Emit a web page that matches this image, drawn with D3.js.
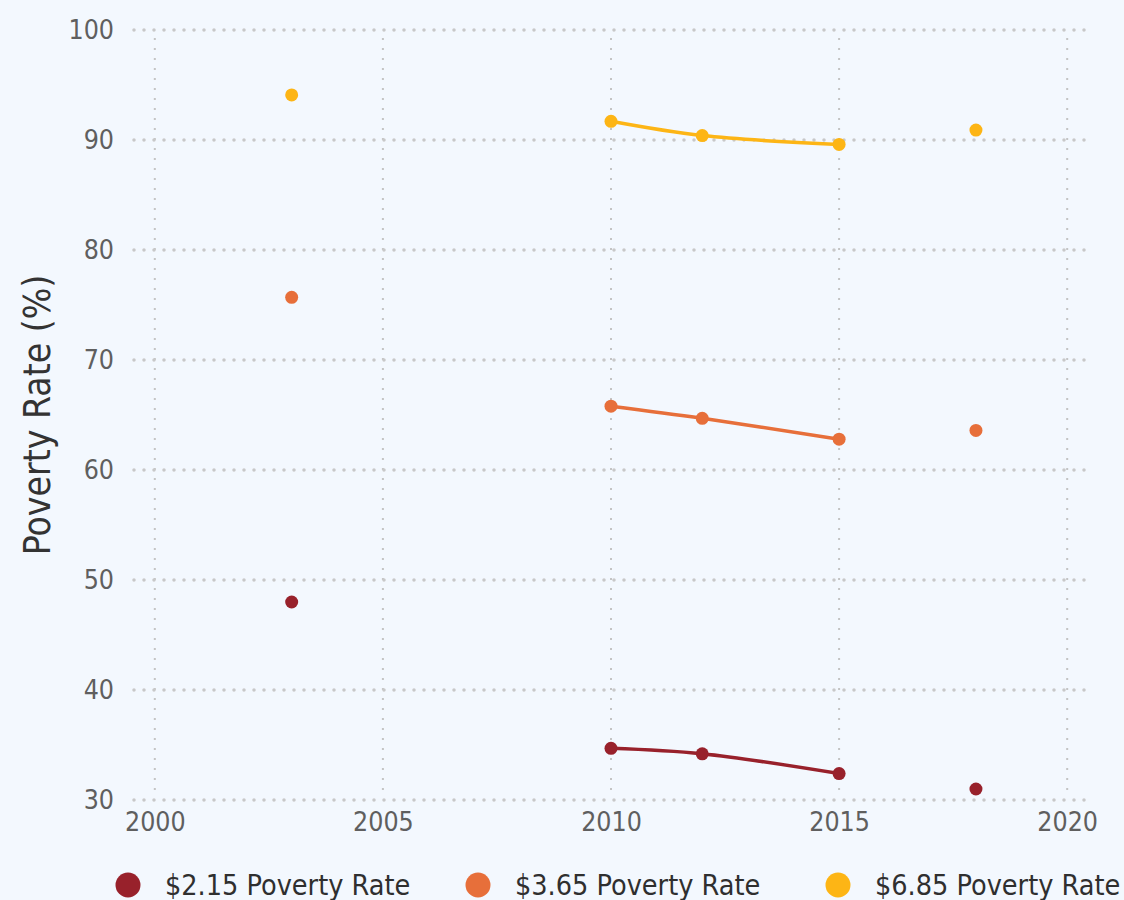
<!DOCTYPE html>
<html>
<head>
<meta charset="utf-8">
<script src="https://cdn.jsdelivr.net/npm/d3@7"></script>
<style>
  body { margin: 0; background: #f3f8fe; }
  svg { display: block; }
  text { font-family: "DejaVu Sans Condensed", "DejaVu Sans", sans-serif; }
</style>
</head>
<body>
<div id="chart"></div>
<script>
// data
const years = [2003, 2010, 2012, 2015, 2018];
// years joined by a line (the others stand alone)
const linkedYears = [2010, 2012, 2015];
const rate215 = [48.0, 34.7, 34.2, 32.4, 31.0];
const rate365 = [75.7, 65.8, 64.7, 62.8, 63.6];
const rate685 = [94.1, 91.7, 90.4, 89.6, 90.9];
const seriesNames = ["$2.15 Poverty Rate", "$3.65 Poverty Rate", "$6.85 Poverty Rate"];
const seriesColors = ["#98212b", "#e76f3a", "#fdb515"];
const xTicks = [2000, 2005, 2010, 2015, 2020];
const yTicks = [30, 40, 50, 60, 70, 80, 90, 100];

const series = [rate215, rate365, rate685].map((vals, i) => ({
  name: seriesNames[i],
  color: seriesColors[i],
  points: years.map((yr, j) => ({ year: yr, value: vals[j] }))
}));

const W = 1124, H = 900;
const x = d3.scaleLinear().domain([1999.5, 2020.5]).range([132, 1090]);
const y = d3.scaleLinear().domain([30, 100]).range([800, 30]);

const svg = d3.select("#chart").append("svg")
  .attr("width", W)
  .attr("height", H);

svg.append("rect").attr("width", W).attr("height", H).attr("fill", "#f3f8fe");

// vertical grid
svg.append("g")
  .selectAll("line")
  .data(xTicks)
  .join("line")
  .attr("x1", d => x(d)).attr("x2", d => x(d))
  .attr("y1", y(100) + 8).attr("y2", y(30) - 3)
  .attr("stroke", "#c4c4c4")
  .attr("stroke-width", 2)
  .attr("stroke-dasharray", "2,8");

// horizontal grid
svg.append("g")
  .selectAll("line")
  .data(yTicks)
  .join("line")
  .attr("x1", x.range()[0] + 2).attr("x2", x.range()[1])
  .attr("y1", d => y(d)).attr("y2", d => y(d))
  .attr("stroke", "#c8c8c8")
  .attr("stroke-width", 3.5)
  .attr("stroke-linecap", "round")
  .attr("stroke-dasharray", "0,10");

// y axis
const yAxis = svg.append("g")
  .attr("transform", `translate(${x.range()[0]},0)`)
  .call(d3.axisLeft(y).tickValues(yTicks).tickSize(0).tickPadding(18));
yAxis.select(".domain").remove();
yAxis.selectAll("text")
  .attr("fill", "#5f5f5f")
  .style("font-size", "26.5px");

// x axis
const xAxis = svg.append("g")
  .attr("transform", `translate(0,${y(30)})`)
  .call(d3.axisBottom(x).tickValues(xTicks).tickFormat(d3.format("d")).tickSize(0).tickPadding(12));
xAxis.select(".domain").remove();
xAxis.selectAll("text")
  .attr("fill", "#5f5f5f")
  .style("font-size", "26.5px");

svg.append("text")
  .attr("transform", `translate(50,${(y(30) + y(100)) / 2})rotate(-90)`)
  .attr("text-anchor", "middle")
  .attr("fill", "#333")
  .style("font-size", "37px")
  .text("Poverty Rate (%)");

const line = d3.line()
  .x(d => x(d.year))
  .y(d => y(d.value))
  .curve(d3.curveCatmullRom.alpha(0.5));

const g = svg.append("g");
series.forEach(s => {
  g.append("path")
    .datum(s.points.filter(p => linkedYears.includes(p.year)))
    .attr("fill", "none")
    .attr("stroke", s.color)
    .attr("stroke-width", 3.5)
    .attr("d", line);
  g.selectAll(null)
    .data(s.points)
    .join("circle")
    .attr("cx", d => x(d.year))
    .attr("cy", d => y(d.value))
    .attr("r", 6.5)
    .attr("fill", s.color);
});

// legend
const legendX = [128, 478, 838];
const legend = svg.append("g")
  .selectAll("g")
  .data(series)
  .join("g")
  .attr("transform", (d, i) => `translate(${legendX[i]},885)`);
legend.append("circle")
  .attr("r", 12.5)
  .attr("fill", d => d.color);
legend.append("text")
  .attr("x", 37)
  .attr("dy", "0.36em")
  .attr("fill", "#2f2f2f")
  .style("font-size", "28.5px")
  .text(d => d.name);
</script>
</body>
</html>
